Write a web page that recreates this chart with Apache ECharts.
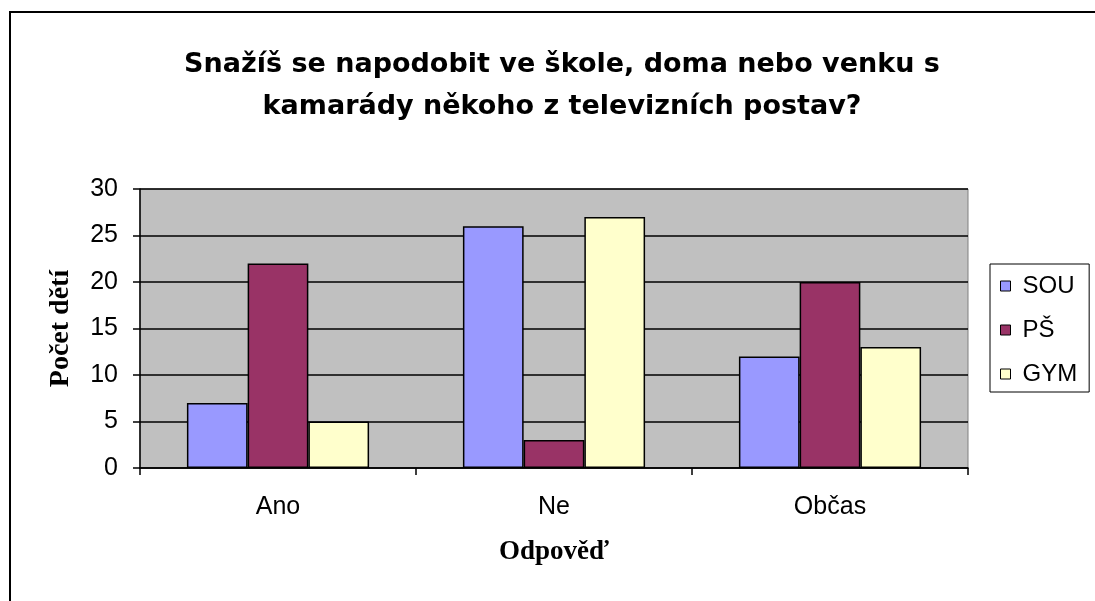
<!DOCTYPE html>
<html>
<head>
<meta charset="utf-8">
<script src="https://cdn.jsdelivr.net/npm/echarts@6/dist/echarts.min.js"></script>
<style>
  html, body { margin: 0; padding: 0; background: #fff; }
  #chart { width: 1095px; height: 601px; }
</style>
</head>
<body>
<div id="chart"></div>
<script>
const categories = ["Ano", "Ne", "Občas"];
const souValues = [7, 26, 12];
const psValues = [22, 3, 20];
const gymValues = [5, 27, 13];
const seriesNames = ["SOU", "PŠ", "GYM"];
const seriesColors = ["#9999FF", "#993366", "#FFFFCC"];

const chart = echarts.init(document.getElementById("chart"));

const sansFont = "Liberation Sans, Arial, sans-serif";
const serifFont = "Liberation Serif, Times New Roman, serif";

function makeBar(name, data, color) {
  return {
    name: name,
    type: "bar",
    data: data,
    barGap: "0%",
    barCategoryGap: "34%",
    itemStyle: {
      color: color,
      borderColor: "#000",
      borderWidth: 1.5,
    },
  };
}

chart.setOption({
  animation: false,
  backgroundColor: "#fff",
  title: {
    text: "Snažíš se napodobit ve škole, doma nebo venku s\nkamarády někoho z televizních postav?",
    left: 557,
    top: 39,
    textAlign: "center",
    textStyle: {
      fontFamily: "DejaVu Sans, sans-serif",
      fontSize: 27,
      fontWeight: "bold",
      color: "#000",
      lineHeight: 42,
    },
  },
  graphic: [
    {
      type: "rect",
      shape: { x: 10, y: 12, width: 1100, height: 600 },
      style: { fill: "none", stroke: "#000", lineWidth: 2 },
      silent: true,
    },
  ],
  legend: {
    data: seriesNames,
    orient: "vertical",
    left: 990,
    top: 264,
    padding: [10, 12, 6, 10],
    borderColor: "#000",
    borderWidth: 1,
    itemWidth: 10,
    itemHeight: 10,
    itemGap: 20,
    icon: "rect",
    itemStyle: { borderColor: "#000", borderWidth: 1 },
    textStyle: {
      fontFamily: sansFont,
      fontSize: 24,
      color: "#000",
      padding: [0, 0, 0, 7],
    },
  },
  grid: {
    left: 140,
    top: 189,
    right: 127,
    bottom: 133,
    show: true,
    backgroundColor: "#C0C0C0",
    borderColor: "#808080",
    borderWidth: 1,
  },
  xAxis: {
    type: "category",
    data: categories,
    name: "Odpověď",
    nameLocation: "middle",
    nameGap: 71,
    nameTextStyle: {
      fontFamily: serifFont,
      fontSize: 27,
      fontWeight: "bold",
      color: "#000",
    },
    axisLine: { lineStyle: { color: "#000", width: 1.5 } },
    axisTick: { show: true, length: 7, lineStyle: { color: "#000", width: 1.5 } },
    axisLabel: {
      fontFamily: sansFont,
      fontSize: 25,
      color: "#000",
      margin: 27,
    },
  },
  yAxis: {
    type: "value",
    min: 0,
    max: 30,
    interval: 5,
    name: "Počet dětí",
    nameLocation: "middle",
    nameRotate: 90,
    nameGap: 65,
    nameTextStyle: {
      fontFamily: serifFont,
      fontSize: 28,
      fontWeight: "bold",
      color: "#000",
    },
    axisLine: { show: true, lineStyle: { color: "#000", width: 1.5 } },
    axisTick: { show: true, length: 7, lineStyle: { color: "#000", width: 1.5 } },
    axisLabel: {
      fontFamily: sansFont,
      fontSize: 25,
      color: "#000",
      margin: 22,
    },
    splitLine: { lineStyle: { color: "#000", width: 1.5 } },
  },
  series: [
    makeBar(seriesNames[0], souValues, seriesColors[0]),
    makeBar(seriesNames[1], psValues, seriesColors[1]),
    makeBar(seriesNames[2], gymValues, seriesColors[2]),
  ],
});
</script>
</body>
</html>
